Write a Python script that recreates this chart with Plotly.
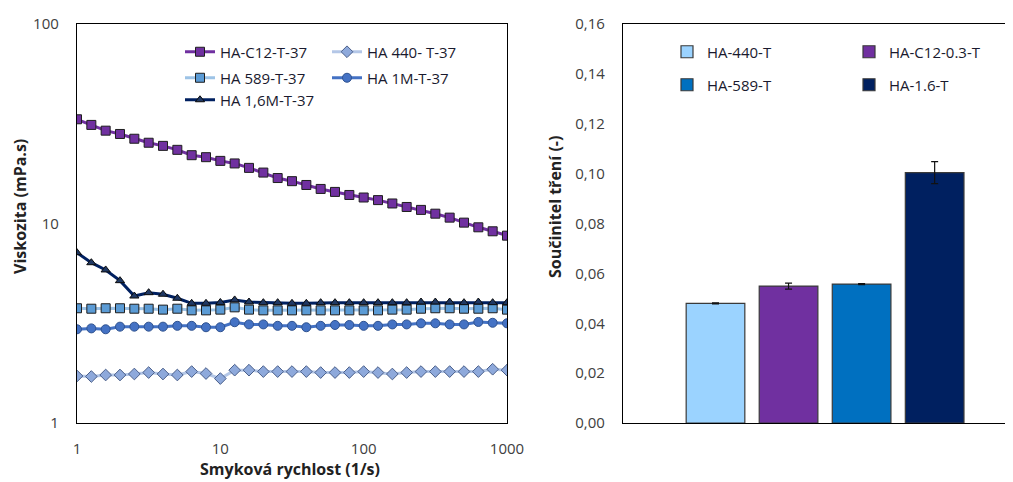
import plotly.graph_objects as go

# ---- Left chart data: viscosity vs shear rate ----
shear_rate = [1.0, 1.259, 1.585, 1.995, 2.512, 3.162, 3.981, 5.012, 6.31, 7.943,
              10.0, 12.59, 15.85, 19.95, 25.12, 31.62, 39.81, 50.12, 63.1, 79.43,
              100.0, 125.9, 158.5, 199.5, 251.2, 316.2, 398.1, 501.2, 631.0, 794.3, 1000.0]

visc_c12 = [33.3, 31.2, 29.2, 28.1, 26.6, 25.4, 24.5, 23.4, 22.0, 21.5,
            20.6, 20.0, 19.0, 18.0, 16.9, 16.3, 15.6, 14.9, 14.4, 13.9,
            13.5, 13.1, 12.6, 12.1, 11.7, 11.2, 10.7, 10.1, 9.57, 9.14, 8.69]
visc_440 = [1.72, 1.71, 1.74, 1.74, 1.76, 1.79, 1.76, 1.74, 1.81, 1.77,
            1.67, 1.84, 1.84, 1.81, 1.81, 1.81, 1.81, 1.79, 1.79, 1.79,
            1.81, 1.79, 1.76, 1.79, 1.81, 1.81, 1.81, 1.81, 1.81, 1.86, 1.84]
visc_589 = [3.76, 3.74, 3.76, 3.76, 3.74, 3.74, 3.70, 3.74, 3.67, 3.67,
            3.70, 3.80, 3.70, 3.67, 3.67, 3.67, 3.67, 3.67, 3.67, 3.67,
            3.67, 3.67, 3.70, 3.70, 3.74, 3.76, 3.76, 3.74, 3.74, 3.76, 3.70]
visc_1m = [2.95, 2.98, 2.95, 3.04, 3.04, 3.04, 3.04, 3.07, 3.07, 3.02,
           3.02, 3.20, 3.12, 3.12, 3.07, 3.07, 3.02, 3.07, 3.10, 3.10,
           3.07, 3.07, 3.12, 3.12, 3.16, 3.16, 3.12, 3.12, 3.21, 3.18, 3.16]
visc_16m = [7.14, 6.36, 5.85, 5.17, 4.33, 4.50, 4.42, 4.22, 3.98, 3.98,
            4.02, 4.14, 4.04, 4.01, 4.01, 3.98, 3.98, 4.01, 4.01, 4.01,
            4.01, 4.01, 4.01, 4.01, 4.04, 4.04, 4.04, 4.01, 4.04, 4.01, 4.01]

x_tick_vals = [1, 10, 100, 1000]
x_tick_text = ["1", "10", "100", "1000"]
y_tick_vals = [1, 10, 100]
y_tick_text = ["1", "10", "100"]

# ---- Right chart data: friction coefficient ----
bar_names = ["HA-440-T", "HA-C12-0.3-T", "HA-589-T", "HA-1.6-T"]
bar_values = [0.0480, 0.0549, 0.0557, 0.1004]
bar_errors = [0.0002, 0.0012, 0.0002, 0.0044]
bar_category = ["vzorek"]

FONT = "Open Sans"
TXT = "#404040"
# the page body has an 8 px default margin, so the figure is drawn 8 px in
OFF = 8
W, H = 1013 - OFF, 482 - OFF


def fx(px):
    return (px - OFF) / W


def fy(py):
    return 1 - (py - OFF) / H


fig = go.Figure()

line_specs = [
    ("HA-C12-T-37", visc_c12, "#7030A0", "#7030A0", "square", "#1e1e1e", 9, "legend"),
    ("HA 440- T-37", visc_440, "#B4C7E7", "#8EA9DB", "diamond", "#4a5f8a", 9, "legend2"),
    ("HA 589-T-37", visc_589, "#9DC3E6", "#5B9BD5", "square", "#1e1e1e", 9, "legend3"),
    ("HA 1M-T-37", visc_1m, "#4472C4", "#4472C4", "circle", "#2F528F", 9, "legend4"),
    ("HA 1,6M-T-37", visc_16m, "#002060", "#1F3864", "triangle-up", "#0d0d0d", 8, "legend5"),
]
for name, vals, lc, mc, sym, ol, sz, lg in line_specs:
    fig.add_trace(go.Scatter(
        x=shear_rate, y=vals, name=name, mode="lines+markers",
        line=dict(color=lc, width=3),
        marker=dict(symbol=sym, size=sz, color=mc, line=dict(color=ol, width=1)),
        xaxis="x", yaxis="y", legend=lg,
    ))

bar_colors = ["#9BD3FF", "#7030A0", "#0070C0", "#002060"]
bar_legends = ["legend6", "legend7", "legend8", "legend9"]
for name, val, err, col, lg in zip(bar_names, bar_values, bar_errors, bar_colors, bar_legends):
    fig.add_trace(go.Bar(
        x=bar_category, y=[val], name=name,
        marker=dict(color=col, line=dict(color="#3a3a3a", width=1.2)),
        error_y=dict(type="data", array=[err], color="#111111", thickness=1.2, width=3.5),
        xaxis="x2", yaxis="y2", legend=lg,
    ))

legend_common = dict(orientation="h", xanchor="left", yanchor="middle",
                     font=dict(family=FONT, size=15, color="#1a1a2e"),
                     bgcolor="rgba(0,0,0,0)",
                     itemclick=False, itemdoubleclick=False)


def lpos(px, py):
    return dict(legend_common, x=fx(px), y=fy(py))


title_font = dict(family=FONT, size=16, color="#222")

fig.update_layout(
    width=W, height=H,
    margin=dict(l=0, r=0, t=0, b=0, autoexpand=False),
    paper_bgcolor="white", plot_bgcolor="white",
    separators=", ",
    barmode="group", bargap=0.277, bargroupgap=0.197,
    font=dict(family=FONT, size=15, color=TXT),
    xaxis=dict(type="log", domain=[fx(77), fx(507)], range=[0, 3], anchor="y",
               tickvals=x_tick_vals, ticktext=x_tick_text,
               showgrid=False, zeroline=False, showline=True, mirror=True,
               linecolor="black", linewidth=1.3, ticks="", ticklabelstandoff=12,
               tickfont=dict(family=FONT, size=15, color=TXT)),
    yaxis=dict(type="log", domain=[fy(423), fy(24)], range=[0, 2], anchor="x",
               tickvals=y_tick_vals, ticktext=y_tick_text,
               showgrid=False, zeroline=False, showline=True, mirror=True,
               linecolor="black", linewidth=1.3, ticks="", ticklabelstandoff=14,
               tickfont=dict(family=FONT, size=15, color=TXT)),
    xaxis2=dict(domain=[fx(623), 1.0], range=[-0.5, 0.465], type="category", anchor="y2",
                showticklabels=False, showgrid=False, zeroline=False,
                showline=True, mirror=True, linecolor="black", linewidth=1.3, ticks=""),
    yaxis2=dict(domain=[fy(423), fy(24)], range=[0, 0.16], dtick=0.02, tickformat=".2f",
                anchor="x2", showgrid=False, zeroline=False, showline=True, mirror=False,
                linecolor="black", linewidth=1.3, ticks="", ticklabelstandoff=14,
                tickfont=dict(family=FONT, size=15, color=TXT)),
    legend=lpos(180, 44 + 8),
    legend2=lpos(327, 44 + 8),
    legend3=lpos(180, 70 + 8),
    legend4=lpos(327, 70 + 8),
    legend5=lpos(180, 92 + 8),
    legend6=lpos(667, 44 + 8),
    legend7=lpos(849, 44 + 8),
    legend8=lpos(667, 77 + 8),
    legend9=lpos(849, 77 + 8),
    showlegend=True,
    annotations=[
        dict(text="<b>Smyková rychlost (1/s)</b>", xref="paper", yref="paper",
             x=fx(290), y=fy(469), xanchor="center", yanchor="middle",
             showarrow=False, font=title_font),
        dict(text="<b>Viskozita (mPa.s)</b>", xref="paper", yref="paper",
             x=fx(20), y=fy(207), xanchor="center", yanchor="middle",
             textangle=-90, showarrow=False, font=title_font),
        dict(text="<b>Součinitel tření (-)</b>", xref="paper", yref="paper",
             x=fx(555), y=fy(207), xanchor="center", yanchor="middle",
             textangle=-90, showarrow=False, font=title_font),
    ],
)

fig.write_html("out.html")
